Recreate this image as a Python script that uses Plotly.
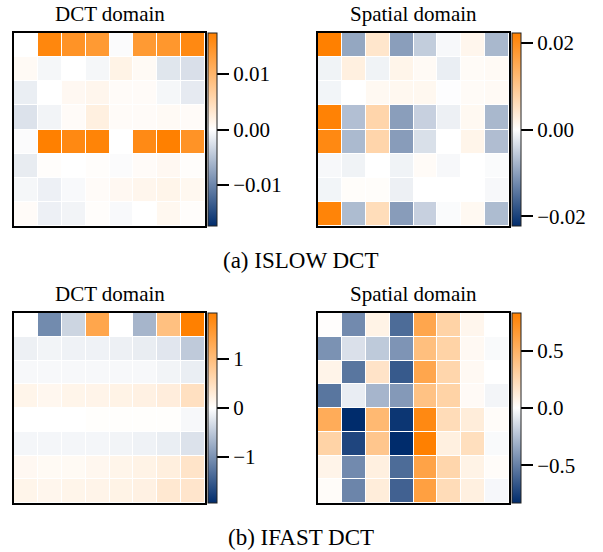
import plotly.graph_objects as go

# ---- data (rows top -> bottom, columns left -> right) ----
islow_dct = [
    [0.0000, 0.0165, 0.0148, 0.0139, -0.0003, 0.0139, 0.0143, 0.0162],
    [0.0007, -0.0007, 0.0000, -0.0007, 0.0017, 0.0007, -0.0021, -0.0026],
    [-0.0014, 0.0000, 0.0009, 0.0012, 0.0005, 0.0005, -0.0007, -0.0017],
    [-0.0024, -0.0009, 0.0005, 0.0021, 0.0005, 0.0005, 0.0007, 0.0005],
    [-0.0003, 0.0174, 0.0162, 0.0169, 0.0000, 0.0160, 0.0174, 0.0148],
    [-0.0016, 0.0003, 0.0000, 0.0003, -0.0003, 0.0005, 0.0009, 0.0003],
    [-0.0007, -0.0012, -0.0005, 0.0005, 0.0009, 0.0012, 0.0014, 0.0010],
    [0.0005, -0.0012, -0.0009, 0.0003, -0.0005, 0.0000, 0.0010, 0.0003],
]
islow_spatial = [
    [0.0222, -0.0093, 0.0044, -0.0102, -0.0053, -0.0007, 0.0016, -0.0075],
    [-0.0013, 0.0027, -0.0013, 0.0018, 0.0009, -0.0018, 0.0007, 0.0009],
    [-0.0011, 0.0000, 0.0011, 0.0013, 0.0013, -0.0002, 0.0007, 0.0009],
    [0.0218, -0.0067, 0.0073, -0.0102, -0.0049, -0.0016, 0.0011, -0.0075],
    [0.0206, -0.0073, 0.0073, -0.0104, -0.0033, 0.0000, 0.0018, -0.0069],
    [-0.0007, -0.0013, 0.0000, -0.0013, 0.0007, -0.0007, 0.0000, -0.0004],
    [-0.0011, 0.0004, 0.0004, -0.0016, 0.0000, 0.0000, 0.0000, -0.0007],
    [0.0215, -0.0071, 0.0060, -0.0104, -0.0049, -0.0004, 0.0011, -0.0071],
]
ifast_dct = [
    [0.00, -1.07, -0.39, 1.36, 0.00, -0.68, 0.97, 1.94],
    [-0.14, -0.10, -0.12, -0.12, -0.14, -0.17, -0.23, -0.49],
    [-0.06, -0.06, -0.06, -0.06, -0.06, -0.06, -0.10, -0.16],
    [0.16, 0.12, 0.16, 0.17, 0.19, 0.21, 0.27, 0.47],
    [0.00, 0.00, 0.00, 0.02, 0.02, 0.02, 0.02, -0.06],
    [-0.08, -0.08, -0.08, -0.08, -0.10, -0.12, -0.16, -0.27],
    [0.10, 0.08, 0.08, 0.12, 0.16, 0.19, 0.25, 0.41],
    [0.16, 0.14, 0.16, 0.17, 0.19, 0.21, 0.35, 0.39],
]
ifast_spatial = [
    [0.01, -0.46, 0.08, -0.58, 0.58, 0.29, 0.06, 0.00],
    [-0.43, -0.12, -0.21, -0.42, 0.42, 0.29, 0.04, -0.02],
    [0.07, -0.54, 0.18, -0.65, 0.58, 0.27, 0.04, 0.00],
    [-0.54, -0.07, -0.29, -0.40, 0.40, 0.29, 0.03, -0.04],
    [0.54, -0.83, 0.46, -0.79, 0.77, 0.23, 0.12, 0.02],
    [0.29, -0.73, 0.37, -0.83, 0.83, 0.10, 0.21, -0.02],
    [0.07, -0.46, 0.10, -0.58, 0.60, 0.27, 0.08, 0.02],
    [0.02, -0.48, 0.12, -0.62, 0.62, 0.23, 0.10, -0.03],
]

panel_titles = ["DCT domain", "Spatial domain", "DCT domain", "Spatial domain"]
captions = ["(a) ISLOW DCT", "(b) IFAST DCT"]
cbar_ranges = [0.0174, 0.0222, 1.94, 0.83]
cbar_ticks = [[-0.01, 0.0, 0.01], [-0.02, 0.0, 0.02], [-1, 0, 1], [-0.5, 0.0, 0.5]]
cbar_formats = [".2f", ".2f", "d", ".1f"]

W, H = 603, 552
FONT = "Liberation Serif"
colorscale = [[0.0, "#002c6c"], [0.5, "#ffffff"], [1.0, "#ff8000"]]

# pixel boxes (left, right, top, bottom)
boxes = [(14, 205, 33, 226), (318, 509, 33, 226), (14, 205, 313, 503), (318, 509, 313, 503)]

def px_x(v):
    return v / W

def px_y(v):
    return 1 - v / H

fig = go.Figure()
datas = [islow_dct, islow_spatial, ifast_dct, ifast_spatial]
for i, (z, box) in enumerate(zip(datas, boxes)):
    l, r, t, b = box
    n = i + 1
    xa = "x" if n == 1 else f"x{n}"
    ya = "y" if n == 1 else f"y{n}"
    vmax = cbar_ranges[i]
    fig.add_trace(go.Heatmap(
        z=z, x=list(range(8)), y=list(range(8)),
        xaxis=xa, yaxis=ya,
        colorscale=colorscale, zmin=-vmax, zmax=vmax,
        xgap=1, ygap=1,
        colorbar=dict(
            x=px_x(r + 3), xanchor="left", xpad=0,
            y=px_y(t), yanchor="top", ypad=0,
            len=b - t, lenmode="pixels",
            thickness=9, thicknessmode="pixels",
            outlinewidth=1, outlinecolor="#222222",
            tickmode="array", tickvals=cbar_ticks[i], tickformat=cbar_formats[i],
            ticks="outside", ticklen=12, tickwidth=1.5, tickcolor="black",
            tickfont=dict(family=FONT, size=21, color="black"),
        ),
        hoverinfo="skip",
    ))
    axkw = dict(showgrid=False, zeroline=False, showticklabels=False, ticks="",
                showline=True, mirror=True, linecolor="black", linewidth=1.5,
                fixedrange=True)
    fig.layout[f"xaxis{'' if n == 1 else n}"] = dict(
        domain=[px_x(l), px_x(r)], range=[-0.5, 7.5], anchor=ya, **axkw)
    fig.layout[f"yaxis{'' if n == 1 else n}"] = dict(
        domain=[px_y(b), px_y(t)], range=[7.5, -0.5], anchor=xa, **axkw)
    fig.add_annotation(
        text=panel_titles[i], xref="paper", yref="paper",
        x=px_x((l + r) / 2), y=px_y(t - 19), xanchor="center", yanchor="middle",
        showarrow=False, font=dict(family=FONT, size=21, color="black"))

cap_y = [260, 537]
for c, yy in zip(captions, cap_y):
    fig.add_annotation(
        text=c, xref="paper", yref="paper", x=px_x(300.5), y=px_y(yy),
        xanchor="center", yanchor="middle", showarrow=False,
        font=dict(family=FONT, size=23, color="black"))

fig.update_layout(
    width=W, height=H, margin=dict(l=0, r=0, t=0, b=0),
    paper_bgcolor="white", plot_bgcolor="white", showlegend=False,
)
fig.write_html("out.html", config={"displayModeBar": False},
               post_script="document.body.style.margin='0';document.body.style.overflow='hidden';")
